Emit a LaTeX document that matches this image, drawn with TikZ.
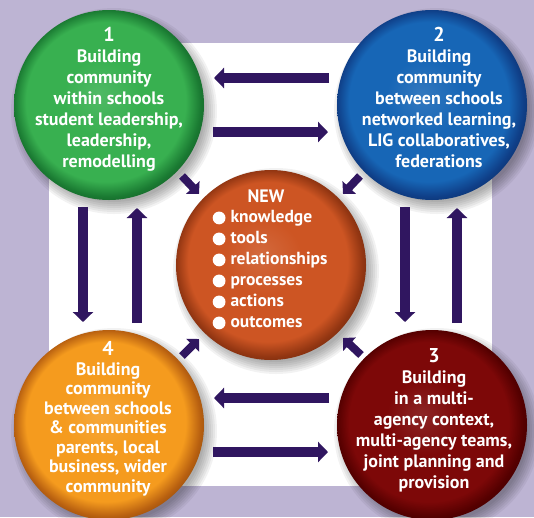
\documentclass[tikz,border=0pt]{standalone}
\usepackage{fontspec}
\setmainfont{PT Sans}
\usetikzlibrary{arrows.meta,calc}
\definecolor{bg}{HTML}{BDB4D3}
\definecolor{arrowc}{HTML}{301660}
\definecolor{gmain}{HTML}{38B050}\definecolor{grim}{HTML}{1A7A32}
\definecolor{bmain}{HTML}{1766B6}\definecolor{brim}{HTML}{0F3F88}
\definecolor{omain}{HTML}{F59B1E}\definecolor{orim}{HTML}{B86010}
\definecolor{rmain}{HTML}{7D0808}\definecolor{rrim}{HTML}{550000}
\definecolor{cmain}{HTML}{CD5523}\definecolor{crim}{HTML}{933612}
\colorlet{btnmain}{gmain}\colorlet{btnrim}{grim}
\pgfdeclareradialshading[btnmain,btnrim]{button}{\pgfpoint{-3bp}{3bp}}{color(0bp)=(btnmain!88!white);color(10bp)=(btnmain);color(21bp)=(btnmain);color(24.5bp)=(btnrim);color(29bp)=(btnrim!60!black)}
\newcommand\blt{\tikz[baseline=0pt]\fill[white] (0pt,5pt) circle (6.4pt);\hspace{5pt}}
\newcommand\numb[1]{{\fontsize{20}{21}\selectfont #1}}
\tikzset{
  btn/.style 2 args={circle, minimum size=190pt, inner sep=0pt,
    /utils/exec={\colorlet{btnmain}{#1}\colorlet{btnrim}{#2}}, shading=button},
  txt/.style={text=white, align=center, font=\fontsize{18}{21}\selectfont\bfseries, inner sep=0pt},
  fat/.style={line width=10pt, draw=arrowc, -{Triangle[width=20pt,length=10pt]}},
  slim/.style={line width=8pt, draw=arrowc, -{Triangle[width=18pt,length=9pt]}}
}
\begin{document}
\begin{tikzpicture}[x=1pt,y=-1pt]
\useasboundingbox (0,0) rectangle (534,517);
\fill[bg] (0,0) rectangle (534,517);
\fill[white] (49,43) rectangle (492,486);
% centres
\coordinate (p1) at (109,105);
\coordinate (p2) at (432,105);
\coordinate (p3) at (432,425);
\coordinate (p4) at (109,425);
\coordinate (p5) at (271,265);
% soft shadows
\foreach \p in {p1,p2,p3,p4,p5}{
  \foreach \k in {0,...,6}{
    \fill[black,opacity=0.05] ($(\p)+(5,6)$) circle ({103-2*\k});
  }
}
% arrows
\coordinate (a1s) at (329,78);  \coordinate (a1e) at (214,78);
\coordinate (a2s) at (213,132); \coordinate (a2e) at (328,132);
\coordinate (a3s) at (329,398); \coordinate (a3e) at (214,398);
\coordinate (a4s) at (213,452); \coordinate (a4e) at (328,452);
\coordinate (v1s) at (83,207);  \coordinate (v1e) at (83,322);
\coordinate (v2s) at (137,323); \coordinate (v2e) at (137,208);
\coordinate (v3s) at (405,207); \coordinate (v3e) at (405,322);
\coordinate (v4s) at (457,323); \coordinate (v4e) at (457,208);
\coordinate (d1s) at (182,176); \coordinate (d1e) at (199,194);
\coordinate (d2s) at (360,176); \coordinate (d2e) at (343,194);
\coordinate (d3s) at (182,356); \coordinate (d3e) at (199,339);
\coordinate (d4s) at (361,355); \coordinate (d4e) at (343,338);
\foreach \a in {a1,a2,a3,a4,v1,v2,v3,v4}{\draw[fat] (\a s) -- (\a e);}
\foreach \a in {d1,d2,d3,d4}{\draw[slim] (\a s) -- (\a e);}
% circles
\node[btn={gmain}{grim}] (c1) at (p1) {};
\node[btn={bmain}{brim}] (c2) at (p2) {};
\node[btn={rmain}{rrim}] (c3) at (p3) {};
\node[btn={omain}{orim}] (c4) at (p4) {};
\node[btn={cmain}{crim}] (c5) at (p5) {};
% texts
\node[txt] (t1) at (109,99) {\numb{1}\\Building\\community\\within schools\\student leadership,\\leadership,\\remodelling};
\node[txt] (t2) at (439,97) {\numb{2}\\Building\\community\\between schools\\networked learning,\\LIG collaboratives,\\federations};
\node[txt] (t3) at (434,420) {\numb{3}\\Building\\in a multi-\\agency context,\\multi-agency teams,\\joint planning and\\provision};
\node[txt, font=\fontsize{18}{19.5}\selectfont\bfseries] (t4) at (108,419) {\numb{4}\\Building\\community\\between schools\\\& communities\\parents, local\\business, wider\\community};
\node[txt] (tn) at (266,196) {NEW};
\node[txt, align=left, anchor=west, font=\fontsize{17.5}{21}\selectfont\bfseries] (tl) at (212.5,270) {\blt knowledge\\\blt tools\\\blt relationships\\\blt processes\\\blt actions\\\blt outcomes};
\end{tikzpicture}
\end{document}
